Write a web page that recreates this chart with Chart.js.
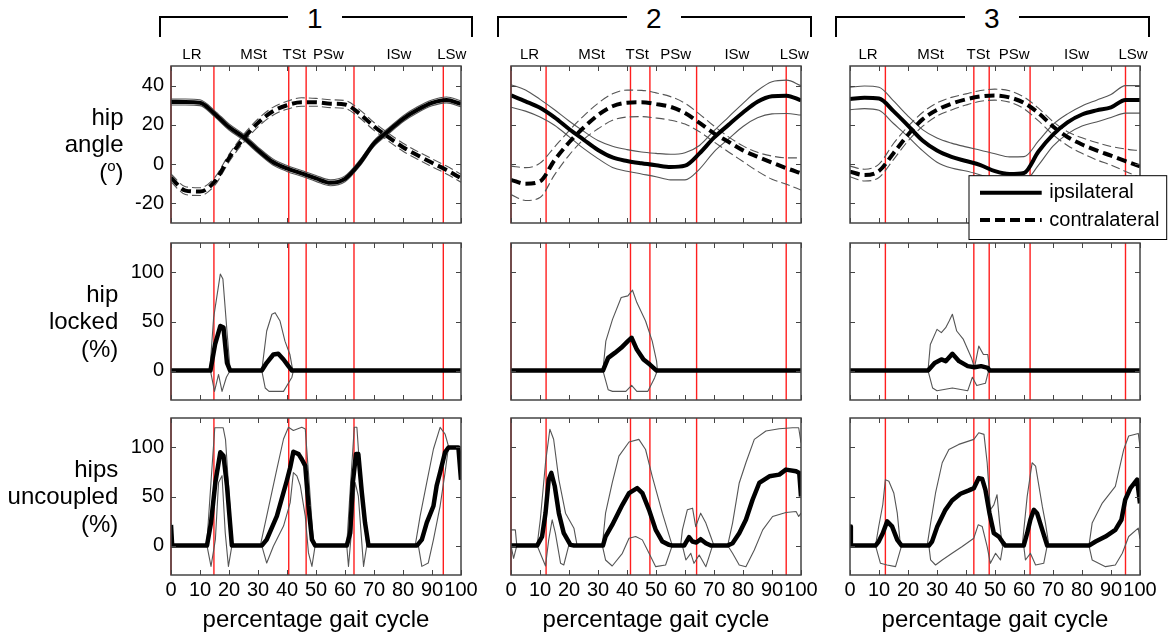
<!DOCTYPE html>
<html>
<head>
<meta charset="utf-8">
<script src="https://cdn.jsdelivr.net/npm/chart.js@4"></script>
<style>
  html, body { margin: 0; padding: 0; background: #fff; overflow: hidden; width: 1168px; height: 635px; }
  body { position: relative; font-family: "Liberation Sans", Arial, sans-serif; }
  canvas { position: absolute; }
  .lab { position: absolute; font-size: 24px; line-height: 27px; text-align: right; white-space: nowrap; }
  .lab sup { font-size: 15px; line-height: 0; vertical-align: 9px; }
  .br { position: absolute; border: 2.5px solid #000; border-bottom: none; box-sizing: border-box; }
  .num { position: absolute; font-size: 28px; line-height: 28px; background: #fff; padding: 0 19px; }
</style>
</head>
<body>
<script>
// ---- data ----
const pct = [0,5,10,15,20,25,30,35,40,45,50,55,60,65,70,75,80,85,90,95,100];
const xTicks = [0,10,20,30,40,50,60,70,80,90,100];
const angleTicks = [-20,0,20,40];
const percentTicks = [0,50,100];
const phaseNames = ["LR","MSt","TSt","PSw","ISw","LSw"];
// phase boundaries (red lines) and where each phase name sits, in % gait cycle
const phases1 = [0,14.8,40.6,46.6,63.1,93.9];
const phases2 = [0,12.1,41.2,47.9,64.0,94.9];
const phases3 = [0,12.2,42.7,48.0,62.1,95.0];
const phaseLabelAt1 = [7.2,28.5,42.5,54.3,78.6,96.8];
const phaseLabelAt2 = [6.4,27.8,43.5,56.8,77.9,97.7];
const phaseLabelAt3 = [6.2,27.8,44.2,56.6,78.1,97.6];
const redAtStart = [true,true,false];
const groupNames = ["1","2","3"];
const legendNames = ["ipsilateral","contralateral"];
const rowTitles = [["hip","angle","(<sup>o</sup>)"],["hip","locked","(%)"],["hips","uncoupled","(%)"]];
const xTitle = "percentage gait cycle";

// hip angle, group 1
const ipsi1   = [31.6,31.6,31.3,25.7,18.9,13.7,7.1,1.2,-2.2,-4.7,-7.3,-9.5,-7.5,0.3,10.5,16.9,23.1,27.7,31.2,32.7,30.7];
const ipsi1Hi = [33.1,33.2,32.8,27.3,20.5,15.3,8.7,2.8,-0.7,-3.2,-5.8,-8.0,-6.0,1.9,12.0,18.4,24.6,29.2,32.7,34.2,32.2];
const ipsi1Lo = [30.1,30.1,29.8,24.2,17.4,12.2,5.6,-0.3,-3.7,-6.2,-8.8,-11.0,-9.0,-1.2,9.0,15.4,21.6,26.2,29.7,31.2,29.2];
const contra1   = [-7,-13.5,-14,-9,3.1,13,21,26.8,30,31.5,31.5,30.8,30.4,25.7,19.2,13.7,8.6,4.5,0.7,-3,-7.2];
const contra1Hi = [-5,-11.5,-12,-7,5,15,23,28.8,32,33.8,33.5,32.8,32.4,27.8,21.2,15.7,10.6,6.5,2.7,-1,-5.2];
const contra1Lo = [-9,-15.5,-16,-11,1.1,11,19,24.8,28,29.5,29.5,28.8,28.4,23.6,17.2,11.7,6.6,2.5,-1.3,-5,-9.2];
// hip angle, group 2
const ipsi2   = [35,32,28.7,23.8,17.9,12.5,7.2,3.4,1.6,0.4,-0.6,-1.5,-0.8,5.5,13.5,20,26.3,31.8,34.6,34.9,32.5];
const ipsi2Hi = [40.5,37.8,33,27.7,22,16.8,12,9.1,7.4,6.2,5.5,5,5.8,9.5,17,24,31,37.5,42,42.8,40];
const ipsi2Lo = [29,27,24,19.8,14,8,2.8,-1.7,-3.6,-5,-6.4,-8,-8,-2.5,6.3,12.8,19.2,23.6,25.6,25.8,25];
const contra2   = [-8,-10,-8.8,2,11,18.5,25,29.5,31.3,31.5,30.6,29.2,26,21,15.7,11.4,7,3.8,0.8,-2.1,-4.6];
const contra2Hi = [-1,-1.8,0.5,8.7,17,24.5,31,35.8,37.7,37.6,36.3,34.4,31,25.5,19.4,13.9,9.3,6,4.1,3.2,3.2];
const contra2Lo = [-15.5,-18.5,-17,-5.5,4.5,12.5,18,22.3,24,24.2,23.5,22.4,20.4,16.5,11.3,6.2,1.3,-3.6,-7.7,-10.3,-13.2];
// hip angle, group 3
const ipsi3   = [33.2,33.8,33.4,27,19.6,12,6.9,3.7,1.6,-0.5,-3.6,-5,-4.5,6.4,15,21.3,25.3,27.4,28.9,32.7,32.7];
const ipsi3Hi = [39.2,39.8,39.2,32.2,24.5,17.6,13.3,10.7,8.8,7.1,5.3,3.7,3.8,11.8,20.2,25.6,29.6,32.6,35.5,40,40];
const ipsi3Lo = [27.7,28.3,27.4,20.7,14,6.9,1,-2,-3.5,-5.5,-7.7,-9.4,-8.9,-0.5,9.2,15.4,19.4,21.5,23.8,26,26];
const contra3   = [-3.8,-5.6,-3.5,5.6,15,22.8,27.6,30.8,33,34.5,35,34,31.2,26,19.2,13.8,10,7,4.3,1.5,-1.2];
const contra3Hi = [-1,-2.6,0,10.5,19.2,26.3,31.2,34,35.8,37.5,38.2,37.4,34.2,28.5,21.7,16.5,13.4,11,9,7.7,6.8];
const contra3Lo = [-6.4,-8.6,-6.8,2.3,11.8,19.2,24.5,27.6,30.1,32,32.6,31.6,28.2,22,15,9.5,5.5,2.2,-0.5,-3.7,-6.8];

// hip locked (%), [gait %, value]
const locked1   = [[0,0],[13.6,0],[15.2,26.6],[17,45.4],[18.1,43.8],[19.3,7.9],[20.4,0],[31.3,0],[33,7.9],[35.3,16.4],[37,17.1],[38.8,11.3],[40.5,4.5],[41.7,0],[100,0]];
const locked1Hi = [[0,0],[13.4,0],[14.7,54],[17,98.3],[17.9,93.2],[19.3,40.3],[20.4,0],[31.3,0],[33,40.3],[34.8,57.4],[35.9,59],[37.6,50.5],[39.3,30],[41,16.4],[42,0],[100,0]];
const locked1Lo = [[0,0],[13.6,0],[15,-21.2],[16.4,-4],[17.6,-21.2],[19.1,-6.8],[20.4,0],[31.3,0],[32.5,-17.8],[33.8,-21.2],[38.8,-21.2],[41.7,-6.8],[42.2,0],[100,0]];
const locked2   = [[0,0],[31.7,0],[33.5,12.9],[35.8,18],[38,23.2],[40.3,30],[41.6,33.4],[43.4,21.4],[45.7,11.3],[47.9,6.1],[50.2,0],[100,0]];
const locked2Hi = [[0,0],[31.7,0],[32.7,30],[35,52.2],[38,74.4],[40.3,76.1],[41.9,81.9],[43.4,69.3],[46.4,50.5],[48.7,30],[50.2,9.6],[50.5,0],[100,0]];
const locked2Lo = [[0,0],[31.7,0],[33.5,-19.5],[35,-21.2],[39.6,-21.2],[41.6,-15],[43.4,-21.2],[47.2,-21.2],[49.5,-7.5],[50.5,0],[100,0]];
const locked3   = [[0,0],[26.9,0],[29.2,7.8],[31.5,11.3],[33,9.6],[35.3,17.1],[37.6,9.6],[40.6,4.5],[42.9,3.4],[45.2,4.5],[47.5,2.7],[48.2,0],[100,0]];
const locked3Hi = [[0,0],[26.9,0],[27.7,26.6],[30,42],[31.5,38.6],[33,43.7],[34.2,50.5],[35.3,57.4],[36.8,40.3],[39.1,31.7],[41.9,12.9],[42.9,2.7],[44.4,24.9],[46,16.4],[47.5,16.4],[48.2,0],[100,0]];
const locked3Lo = [[0,0],[26.9,0],[28.5,-17.8],[30,-20.5],[35.3,-17.8],[40.6,-20.5],[42.2,-6.8],[43.7,-15.3],[46.7,-13],[47.8,0],[100,0]];

// hips uncoupled (%), [gait %, value]
const uncoupled1   = [[0,21],[0.4,0],[12.4,0],[13.8,23.3],[15.3,64.3],[17,95],[18.1,91.6],[19.3,60.9],[21,0],[31.3,0],[33,6.1],[36.5,30],[39.9,65.8],[41.1,79.5],[42.2,95.6],[44,93.2],[45.1,88],[46.3,81.2],[47.4,40.3],[48.6,6.1],[49.7,0],[60.6,0],[61.8,13],[62.7,64.3],[63.8,93.2],[64.6,93.2],[65.8,54],[66.9,23.3],[68.1,0],[84.8,0],[86.5,6.1],[88.2,23.3],[90.5,40.3],[91.6,60.9],[92.8,74.6],[94.5,95],[95.7,100],[99.1,100],[100,67]];
const uncoupled1Hi = [[0,23],[0.4,0],[12.3,0],[14,74],[15.1,120],[18,120],[18.8,108],[20.3,40],[21,0],[30.8,0],[33,30],[36.5,77.8],[38.8,108.6],[40.5,120.5],[42.2,117.2],[45.1,120.5],[46.3,118.8],[47.4,74.4],[49.1,2.7],[49.7,0],[60.6,0],[61.8,57.4],[63.2,120.5],[64.1,120.5],[65,81.2],[66.4,40.3],[67.5,0],[84.2,0],[85.9,30],[88.2,64.3],[90.5,98.4],[92.8,120.5],[94.5,113.7],[95.7,101],[99.4,101],[100,100]];
const uncoupled1Lo = [[0,0],[12.4,0],[13.8,-21.2],[15.3,6.1],[16.4,64.3],[17.6,71.2],[18.7,13],[19.8,-21.2],[21,0],[31.3,0],[33,-17.8],[35.3,-0.7],[38.8,19.9],[41.1,43.7],[42.2,74.4],[43.4,71],[44.6,60.9],[46.3,30],[47.4,-7.5],[48.6,-21.2],[49.7,0],[60.6,0],[61.2,-21.2],[62.7,30],[63.5,64.3],[64.6,50.5],[66.4,-21.2],[67.5,0],[85.3,0],[86.5,-21.2],[88.7,-17.8],[90.5,6.1],[92.8,40.3],[94.5,74.4],[95.7,101],[99.4,101],[100,67]];
const uncoupled2   = [[0,0],[9,0],[10.7,9],[11.9,33],[13,67.2],[13.9,74],[15.1,60.4],[16.5,33],[18.2,12.6],[20.5,0.7],[21.7,0],[31.7,0],[32.6,9],[34.9,21],[38.4,41.5],[40.7,53.4],[43.5,58.5],[45.3,53.4],[47.6,36.4],[49.9,16],[52.2,4.1],[54.5,0.7],[55.6,0],[59.7,0],[61.4,8.5],[62.6,4.1],[63.9,3.1],[65.4,6.5],[67.2,2.4],[68.9,0],[74.7,0],[76.4,2.4],[78.7,12.6],[81,26.3],[83.3,46.7],[85.6,63.8],[89.1,70.6],[92.5,72.3],[94.8,77.4],[98.3,75.7],[99.4,74],[100,50]];
const uncoupled2Hi = [[0,16],[1.5,16],[2,0],[9,0],[10.1,26.3],[11.9,84.4],[13.4,118.5],[14.7,108.3],[16.5,67.2],[18.8,33],[21.7,17.7],[22.8,0],[31.5,0],[32.6,33],[34.9,63.8],[37.2,91.1],[40.7,105.5],[44.1,108.2],[46.4,97.9],[48.7,70.6],[52.2,33],[55.6,0],[58.5,0],[59.1,16],[60.8,36.4],[62.6,38.1],[63.7,19.3],[65.4,33],[67.2,22.9],[68.9,9],[70,0],[74.7,0],[76.4,22.9],[78.7,63.8],[81,84.4],[83.9,108.2],[87.9,116.7],[92.5,119.1],[97.1,120.1],[99.2,120.1],[100,104.8]];
const uncoupled2Lo = [[0,0],[0.9,-13],[2,0],[9,0],[10.1,-7.9],[11.9,-20.8],[13,5.8],[14.2,26.3],[15.3,12.6],[17.1,-18.1],[18.2,-19.8],[19.9,0],[31.5,0],[32.6,-14.7],[34.9,-20.8],[38.4,-7.9],[40.7,7.5],[43,9.2],[45.3,5.8],[47.6,-7.9],[49.9,-21.5],[53.3,-19.8],[55.6,0],[59.1,0],[60.3,-14.7],[62,-7.9],[63.1,-18.1],[64.9,-9.6],[67.2,-21.5],[69.5,0],[74.7,0],[76.4,-7.9],[78.7,-19.8],[81,-21.5],[83.9,-4.5],[86.8,16],[90.2,29.6],[94.8,33.7],[98.3,34.7],[99.2,29.6],[100,33]];
const uncoupled3   = [[0,19.4],[0.3,0],[8.8,0],[9.9,4.1],[11.3,12.6],[12.8,24.6],[14.5,19.5],[16.3,5.8],[17.8,0],[27.2,0],[28.3,4.1],[30.1,19.4],[32.9,36.4],[35.2,45.9],[38.1,52.8],[41,56.2],[42.7,58.5],[44.4,68.8],[45.6,67.8],[46.7,56.8],[48.1,33],[49.6,12.6],[51.3,9.2],[52.5,4.1],[53.6,0],[59.9,0],[61.1,12.6],[62.2,26.3],[63.4,36.4],[64.5,33],[66.3,16],[68,0],[82.4,0],[84.7,4.1],[88.1,9.2],[91.5,16],[93.6,26.3],[94.9,46.7],[96.7,58.5],[99,67.2],[100,43]];
const uncoupled3Hi = [[0,19.4],[0.5,0],[8.8,0],[9.9,19.4],[11.3,41.6],[12.2,67.2],[13.4,65.5],[15.1,53.6],[16.3,33],[17.4,0],[26.6,0],[27.8,22.9],[29.5,53.6],[31.8,84.4],[34.1,98],[37.5,103.1],[42.7,108.2],[44.4,115],[46.2,113.3],[47.3,84.4],[48.4,36.4],[49.6,41.5],[50.7,51.8],[51.6,22.9],[52.5,0],[59.4,0],[61.1,50.1],[62.8,84.4],[64,81],[66.3,40.1],[67.4,22.9],[68.6,0],[82.4,0],[83.5,22.9],[87,43.3],[91.5,60.4],[94.4,98],[96.1,111.6],[99.4,114.3],[100,101]];
const uncoupled3Lo = [[0,0],[8.8,0],[10.5,-18.1],[12.8,-19.8],[15.7,-21.5],[17.8,0],[27.2,0],[27.8,-14.7],[29.5,-19.8],[31.8,-14.7],[35.2,-7.9],[38.7,-1],[42.7,7.5],[44.2,21.1],[45.6,19.4],[47.3,-1],[48.4,-18.1],[50.2,-7.9],[51.9,-14.7],[52.7,0],[59.9,0],[60.5,-14.7],[62.2,-7.9],[64,-19.8],[66.8,-18.1],[68,0],[82.4,0],[83.5,-14.7],[88.1,-21.5],[91.5,-19.8],[93.9,-7.9],[96.1,9.2],[99.4,17.7],[100,7]];

// ---- layout ----
const FONT = '"Liberation Sans", Arial, sans-serif';
const L = [171, 511, 850], T = [66, 243, 418];
const W = 290, H = 157, PADT = 28, PADR = 30, YW = 60;
const phases = [phases1, phases2, phases3];
const phaseLabelAt = [phaseLabelAt1, phaseLabelAt2, phaseLabelAt3];

const xy = (xs, ys) => xs.map((x, i) => ({x: x, y: ys[i]}));
const pairs = a => a.map(p => ({x: p[0], y: p[1]}));

function line(data, thick, dashed, smooth) {
  return {
    data: data,
    borderColor: thick ? '#000' : '#555',
    borderWidth: thick ? 4 : 1.1,
    borderDash: dashed ? (thick ? [10, 5] : [9, 4]) : [],
    pointRadius: 0,
    fill: false,
    tension: 0,
    cubicInterpolationMode: smooth ? 'monotone' : 'default',
    borderCapStyle: 'butt',
    borderJoinStyle: 'round'
  };
}

const angleData = [
  [ipsi1, ipsi1Hi, ipsi1Lo, contra1, contra1Hi, contra1Lo],
  [ipsi2, ipsi2Hi, ipsi2Lo, contra2, contra2Hi, contra2Lo],
  [ipsi3, ipsi3Hi, ipsi3Lo, contra3, contra3Hi, contra3Lo]
];
const lockedData = [[locked1, locked1Hi, locked1Lo], [locked2, locked2Hi, locked2Lo], [locked3, locked3Hi, locked3Lo]];
const uncoupledData = [[uncoupled1, uncoupled1Hi, uncoupled1Lo], [uncoupled2, uncoupled2Hi, uncoupled2Lo], [uncoupled3, uncoupled3Hi, uncoupled3Lo]];

function datasetsFor(r, c) {
  if (r === 0) {
    const d = angleData[c];
    return [
      line(xy(pct, d[0]), true, false, true),
      line(xy(pct, d[3]), true, true, true),
      line(xy(pct, d[1]), false, false, true),
      line(xy(pct, d[2]), false, false, true),
      line(xy(pct, d[4]), false, true, true),
      line(xy(pct, d[5]), false, true, true)
    ];
  }
  const d = (r === 1 ? lockedData : uncoupledData)[c];
  const m = line(pairs(d[0]), true, false, false);
  m.borderWidth = 4.5;
  return [m, line(pairs(d[1]), false, false, false), line(pairs(d[2]), false, false, false)];
}

const decor = {
  id: 'decor',
  beforeDatasetsDraw(chart, args, o) {
    const {ctx, chartArea: a, scales: {x}} = chart;
    ctx.save();
    ctx.strokeStyle = 'rgb(255,30,30)';
    ctx.lineWidth = 1.4;
    o.phases.forEach((v, i) => {
      if (i === 0 && !o.redStart) return;
      const px = x.getPixelForValue(v);
      ctx.beginPath(); ctx.moveTo(px, a.top); ctx.lineTo(px, a.bottom); ctx.stroke();
    });
    ctx.restore();
  },
  afterDraw(chart, args, o) {
    const {ctx, chartArea: a, scales: {x, y}} = chart;
    ctx.save();
    ctx.strokeStyle = '#444';
    ctx.lineWidth = 1;
    ctx.beginPath();
    xTicks.forEach(v => {
      const px = Math.round(x.getPixelForValue(v)) + 0.5;
      ctx.moveTo(px, a.bottom); ctx.lineTo(px, a.bottom - 5);
      ctx.moveTo(px, a.top); ctx.lineTo(px, a.top + 5);
    });
    o.yTicks.forEach(v => {
      const py = Math.round(y.getPixelForValue(v)) + 0.5;
      ctx.moveTo(a.left, py); ctx.lineTo(a.left + 5, py);
      ctx.moveTo(a.right, py); ctx.lineTo(a.right - 5, py);
    });
    ctx.stroke();
    ctx.lineWidth = 1.5;
    ctx.strokeRect(a.left, a.top, a.right - a.left, a.bottom - a.top);

    if (o.labelAt) {
      ctx.fillStyle = '#000';
      ctx.font = '15px ' + FONT;
      ctx.textAlign = 'center';
      ctx.textBaseline = 'alphabetic';
      phaseNames.forEach((n, i) => {
        ctx.fillText(n, x.getPixelForValue(o.labelAt[i]), a.top - 7.5);
      });
    }
    if (o.legend) {
      const bx = a.left + 119, by = a.top + 109.7, bw = 197.7, bh = 63.8;
      ctx.fillStyle = '#fff';
      ctx.fillRect(bx, by, bw, bh);
      ctx.strokeStyle = '#000';
      ctx.lineWidth = 1;
      ctx.strokeRect(bx, by, bw, bh);
      ctx.lineWidth = 4;
      ctx.beginPath(); ctx.moveTo(bx + 11, by + 17); ctx.lineTo(bx + 72.7, by + 17); ctx.stroke();
      ctx.setLineDash([10, 5]);
      ctx.beginPath(); ctx.moveTo(bx + 11, by + 44.3); ctx.lineTo(bx + 72.7, by + 44.3); ctx.stroke();
      ctx.setLineDash([]);
      ctx.fillStyle = '#000';
      ctx.font = '20px ' + FONT;
      ctx.textAlign = 'left';
      ctx.textBaseline = 'middle';
      ctx.fillText(legendNames[0], bx + 80.3, by + 17);
      ctx.fillText(legendNames[1], bx + 80.3, by + 44.3);
    }
    ctx.restore();
  }
};

function makePanel(r, c) {
  const bottom = r === 2;
  const cv = document.createElement('canvas');
  const h = PADT + H + (bottom ? 60 : 22);
  cv.width = YW + W + PADR;
  cv.height = h;
  cv.style.left = (L[c] - YW) + 'px';
  cv.style.top = (T[r] - PADT) + 'px';
  document.body.appendChild(cv);
  const yTicks = r === 0 ? angleTicks : percentTicks;
  new Chart(cv, {
    type: 'line',
    data: { datasets: datasetsFor(r, c) },
    plugins: [decor],
    options: {
      responsive: false,
      animation: false,
      events: [],
      layout: { padding: { left: 0, right: PADR, top: PADT, bottom: bottom ? 0 : 22 } },
      plugins: {
        legend: { display: false },
        tooltip: { enabled: false },
        decor: {
          phases: phases[c], redStart: redAtStart[c], yTicks: yTicks,
          labelAt: r === 0 ? phaseLabelAt[c] : null,
          legend: r === 0 && c === 2
        }
      },
      scales: {
        x: {
          type: 'linear', min: 0, max: 100, display: bottom,
          afterBuildTicks: s => { s.ticks = xTicks.map(v => ({value: v})); },
          afterFit: s => { if (bottom) s.height = 60; },
          grid: { display: false, drawTicks: false },
          border: { display: false },
          ticks: { autoSkip: false, maxRotation: 0, minRotation: 0, padding: 3, color: '#000', font: { size: 20, family: FONT } },
          title: { display: true, text: xTitle, color: '#000', font: { size: 24, family: FONT }, padding: { top: 0, bottom: 0 } }
        },
        y: {
          type: 'linear', min: -30, max: r === 0 ? 50 : 130,
          afterBuildTicks: s => { s.ticks = yTicks.map(v => ({value: v})); },
          afterFit: s => { s.width = YW; },
          grid: { display: false, drawTicks: false },
          border: { display: false },
          ticks: { display: c === 0, padding: 7, color: '#000', font: { size: 20, family: FONT } }
        }
      }
    }
  });
}

for (let r = 0; r < 3; r++) for (let c = 0; c < 3; c++) makePanel(r, c);

// row titles (left of first column)
const titleRight = [123.5, 118.3, 118.3];
const lineOffsets = [37, 64, 91.5];
rowTitles.forEach((lines, r) => {
  lines.forEach((t, i) => {
    const d = document.createElement('div');
    d.className = 'lab';
    d.style.left = '0px';
    d.style.width = titleRight[r] + 'px';
    d.style.top = (T[r] + lineOffsets[i]) + 'px';
    d.innerHTML = t;
    document.body.appendChild(d);
  });
});

// group brackets
const brackets = [[159, 473, 315], [497, 812, 654], [835, 1150, 992]];
brackets.forEach((b, i) => {
  const d = document.createElement('div');
  d.className = 'br';
  d.style.left = b[0] + 'px';
  d.style.top = '15.5px';
  d.style.width = (b[1] - b[0]) + 'px';
  d.style.height = '21px';
  document.body.appendChild(d);
  const n = document.createElement('span');
  n.className = 'num';
  n.textContent = groupNames[i];
  document.body.appendChild(n);
  n.style.left = (b[2] - n.offsetWidth / 2) + 'px';
  n.style.top = '4.5px';
});
</script>
</body>
</html>
